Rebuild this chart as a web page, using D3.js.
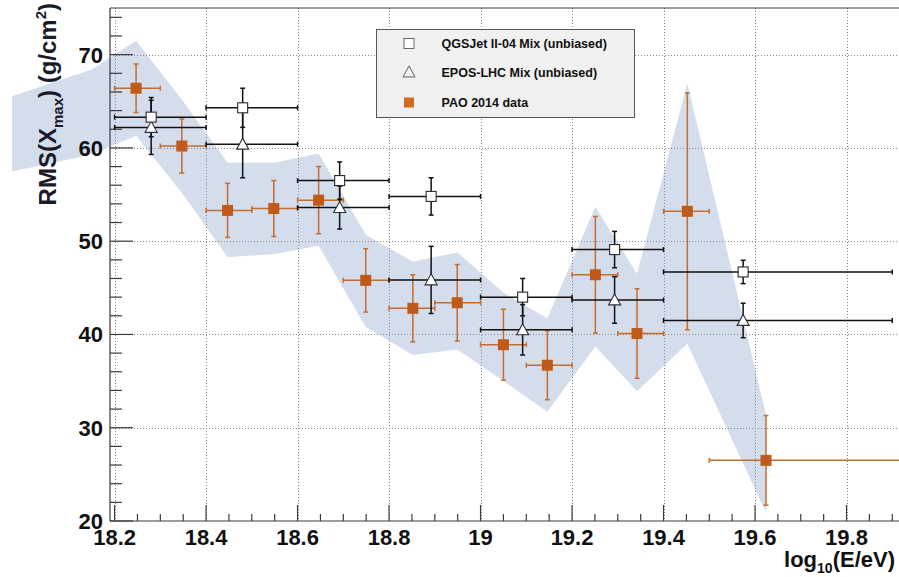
<!DOCTYPE html>
<html>
<head>
<meta charset="utf-8">
<script src="https://cdn.jsdelivr.net/npm/d3@7"></script>
<style>
  html, body { margin: 0; padding: 0; background: #fff; }
  svg { display: block; font-family: "Liberation Sans", Arial, Helvetica, sans-serif; }
</style>
</head>
<body>
<svg id="chart" width="899" height="577"></svg>
<script>
// ---- PAO 2014 measurement (RMS of Xmax with statistical errors) ----
const paoE     = [18.247, 18.347, 18.447, 18.548, 18.646, 18.749, 18.852, 18.949, 19.050, 19.146, 19.251, 19.342, 19.452, 19.624];
const paoRMS   = [66.4, 60.2, 53.3, 53.5, 54.4, 45.8, 42.8, 43.4, 38.9, 36.7, 46.4, 40.1, 53.2, 26.5];
const paoStat  = [2.6, 2.9, 2.9, 3.0, 3.6, 3.4, 3.6, 4.1, 3.8, 3.7, 6.25, 4.8, 12.7, 4.8];
const paoBinLo = [18.2, 18.3, 18.4, 18.5, 18.6, 18.7, 18.8, 18.9, 19.0, 19.1, 19.2, 19.3, 19.4, 19.5];
const paoBinHi = [18.3, 18.4, 18.5, 18.6, 18.7, 18.8, 18.9, 19.0, 19.1, 19.2, 19.3, 19.4, 19.5, 20.0];

// ---- systematic band of the measurement (upper / lower edge) ----
const bandE  = [17.95, 18.15, 18.247, 18.347, 18.447, 18.548, 18.646, 18.749, 18.852, 18.949, 19.050, 19.146, 19.251, 19.342, 19.452, 19.624];
const bandHi = [65.1, 68.4, 71.5, 65.2, 58.4, 58.4, 59.4, 50.7, 47.8, 48.8, 44.5, 41.7, 53.7, 46.5, 66.9, 31.4];
const bandLo = [57.2, 59.3, 61.3, 55.2, 48.3, 48.6, 49.5, 40.8, 37.8, 38.4, 35.0, 31.7, 38.7, 33.9, 39.0, 20.9];

// ---- unbiased mixed-composition predictions ----
const modelE     = [18.28, 18.48, 18.692, 18.892, 19.092, 19.293, 19.574];
const modelBinLo = [18.2, 18.4, 18.6, 18.8, 19.0, 19.2, 19.4];
const modelBinHi = [18.4, 18.6, 18.8, 19.0, 19.2, 19.4, 19.9];
const qgsRMS  = [63.3, 64.3, 56.5, 54.8, 44.0, 49.1, 46.7];
const qgsErr  = [2.1, 2.1, 2.0, 2.0, 2.0, 1.95, 1.25];
const eposRMS = [62.2, 60.4, 53.6, 45.85, 40.5, 43.7, 41.5];
const eposErr = [2.9, 3.6, 2.3, 3.6, 2.7, 2.5, 1.85];

// ---- axes ----
const xTicks = [18.2, 18.4, 18.6, 18.8, 19.0, 19.2, 19.4, 19.6, 19.8];
const xTickLabels = ["18.2", "18.4", "18.6", "18.8", "19", "19.2", "19.4", "19.6", "19.8"];
const yTicks = [20, 30, 40, 50, 60, 70];
const yTickLabels = ["20", "30", "40", "50", "60", "70"];

const legendItems = [
  { label: "QGSJet II-04 Mix (unbiased)", kind: "square" },
  { label: "EPOS-LHC Mix (unbiased)", kind: "triangle" },
  { label: "PAO 2014 data", kind: "pao" }
];

const W = 899, H = 577;
const frame = { left: 110, top: 8, bottom: 521, right: 906 };
const x = d3.scaleLinear().domain([18.19, 19.93]).range([frame.left, frame.right]);
const y = d3.scaleLinear().domain([20, 75]).range([frame.bottom, frame.top]);

const svg = d3.select("#chart");
svg.append("rect").attr("width", W).attr("height", H).attr("fill", "#fff");

const defs = svg.append("defs");
defs.append("clipPath").attr("id", "padClip")
  .append("rect").attr("x", 12).attr("y", 0).attr("width", W - 12).attr("height", H);

// systematic band
const band = bandE.map((e, i) => ({ e, hi: bandHi[i], lo: bandLo[i] }));
svg.append("path")
  .datum(band)
  .attr("clip-path", "url(#padClip)")
  .attr("fill", "#d4ddec")
  .attr("d", d3.area().x(d => x(d.e)).y0(d => y(d.lo)).y1(d => y(d.hi)));

// grid
const grid = svg.append("g").attr("stroke", "#8a8a8a").attr("stroke-width", 1).attr("stroke-dasharray", "1,2");
xTicks.forEach(t => grid.append("line")
  .attr("x1", Math.round(x(t)) + 0.5).attr("x2", Math.round(x(t)) + 0.5)
  .attr("y1", frame.top).attr("y2", frame.bottom));
yTicks.filter(t => t > 20).forEach(t => grid.append("line")
  .attr("x1", frame.left).attr("x2", W)
  .attr("y1", Math.round(y(t)) + 0.5).attr("y2", Math.round(y(t)) + 0.5));

// frame
const fr = svg.append("g").attr("stroke", "#3a3a3a").attr("stroke-width", 1.2).attr("fill", "none");
fr.append("line").attr("x1", frame.left).attr("x2", W).attr("y1", frame.top).attr("y2", frame.top);
fr.append("line").attr("x1", frame.left).attr("x2", frame.left).attr("y1", frame.top).attr("y2", frame.bottom);
fr.append("line").attr("x1", frame.left).attr("x2", W).attr("y1", frame.bottom).attr("y2", frame.bottom);

// ticks
const tk = svg.append("g").attr("stroke", "#3a3a3a").attr("stroke-width", 1.2);
d3.range(20, 75.01, 2).forEach(v => {
  const major = Math.abs(v % 10) < 1e-6;
  tk.append("line").attr("x1", frame.left).attr("x2", frame.left + (major ? 23 : 12))
    .attr("y1", y(v)).attr("y2", y(v));
});
d3.range(18.2, 19.93, 0.05).forEach(v => {
  const major = Math.abs(Math.round(v * 10) - v * 10) < 1e-6 && Math.round(v * 10) % 2 === 0;
  tk.append("line").attr("x1", x(v)).attr("x2", x(v))
    .attr("y1", frame.bottom).attr("y2", frame.bottom - (major ? 16 : 7));
});

// tick labels
const lab = svg.append("g").attr("font-weight", "bold").attr("font-size", 22).attr("fill", "#111");
xTicks.forEach((t, i) => lab.append("text").attr("x", x(t)).attr("y", 545)
  .attr("text-anchor", "middle").text(xTickLabels[i]));
yTicks.forEach((t, i) => lab.append("text").attr("x", 103).attr("y", y(t)).attr("dy", "0.36em")
  .attr("text-anchor", "end").text(yTickLabels[i]));

// axis titles
const xt = svg.append("text").attr("x", 895).attr("y", 567).attr("text-anchor", "end")
  .attr("font-weight", "bold").attr("font-size", 22).attr("fill", "#111");
xt.append("tspan").text("log");
xt.append("tspan").attr("font-size", 14).attr("dy", 6).text("10");
xt.append("tspan").attr("dy", -6).text("(E/eV)");

const yt = svg.append("text").attr("transform", "translate(56,3) rotate(-90)").attr("text-anchor", "end")
  .attr("font-weight", "bold").attr("font-size", 24).attr("fill", "#1a1a2a");
yt.append("tspan").text("RMS(X");
yt.append("tspan").attr("font-size", 15).attr("dy", 7).text("max");
yt.append("tspan").attr("dy", -7).text(") (g/cm");
yt.append("tspan").attr("font-size", 15).attr("dy", -10).text("2");
yt.append("tspan").attr("dy", 10).text(")");

// error bars helper
function errorBars(g, pts, color, width) {
  const cap = 2.5;
  pts.forEach(p => {
    const cx = x(p.e), cy = y(p.v);
    const x0 = x(p.lo), x1 = x(p.hi), yTop = y(p.v + p.err), yBot = y(p.v - p.err);
    g.append("line").attr("x1", x0).attr("x2", x1).attr("y1", cy).attr("y2", cy);
    g.append("line").attr("x1", x0).attr("x2", x0).attr("y1", cy - cap).attr("y2", cy + cap);
    g.append("line").attr("x1", x1).attr("x2", x1).attr("y1", cy - cap).attr("y2", cy + cap);
    g.append("line").attr("x1", cx).attr("x2", cx).attr("y1", yTop).attr("y2", yBot);
    g.append("line").attr("x1", cx - cap).attr("x2", cx + cap).attr("y1", yTop).attr("y2", yTop);
    g.append("line").attr("x1", cx - cap).attr("x2", cx + cap).attr("y1", yBot).attr("y2", yBot);
  });
  g.attr("stroke", color).attr("stroke-width", width);
}

const trianglePath = s => `M0,${-s * 0.55}L${s * 0.55},${s * 0.45}L${-s * 0.55},${s * 0.45}Z`;

// PAO data
const pao = paoE.map((e, i) => ({ e, v: paoRMS[i], err: paoStat[i], lo: paoBinLo[i], hi: paoBinHi[i] }));
errorBars(svg.append("g"), pao, "#c46d2e", 1.5);
svg.append("g").selectAll("rect").data(pao).join("rect")
  .attr("x", d => x(d.e) - 5.5).attr("y", d => y(d.v) - 5.5)
  .attr("width", 11).attr("height", 11).attr("fill", "#c05a1a");

// model predictions: EPOS-LHC (triangles) and QGSJet II-04 (squares)
const qgs = modelE.map((e, i) => ({ e, v: qgsRMS[i], err: qgsErr[i], lo: modelBinLo[i], hi: modelBinHi[i] }));
const epos = modelE.map((e, i) => ({ e, v: eposRMS[i], err: eposErr[i], lo: modelBinLo[i], hi: modelBinHi[i] }));
errorBars(svg.append("g"), epos, "#111", 1.5);
errorBars(svg.append("g"), qgs, "#111", 1.5);
svg.append("g").selectAll("path").data(epos).join("path")
  .attr("transform", d => `translate(${x(d.e)},${y(d.v)})`)
  .attr("d", trianglePath(11)).attr("fill", "#fff").attr("stroke", "#2a2f3a").attr("stroke-width", 1.1);
svg.append("g").selectAll("rect").data(qgs).join("rect")
  .attr("x", d => x(d.e) - 5).attr("y", d => y(d.v) - 5)
  .attr("width", 10).attr("height", 10).attr("fill", "#fff").attr("stroke", "#2a2a2a").attr("stroke-width", 1.1);

// legend
const lg = svg.append("g");
lg.append("rect").attr("x", 376.5).attr("y", 29.5).attr("width", 258).attr("height", 88)
  .attr("fill", "#f0f0f0").attr("stroke", "#555").attr("stroke-width", 1);
const rowsY = [43.5, 72, 102.5];
legendItems.forEach((it, i) => {
  const cy = rowsY[i];
  if (it.kind === "square") {
    lg.append("rect").attr("x", 404).attr("y", cy - 5).attr("width", 10).attr("height", 10)
      .attr("fill", "#fff").attr("stroke", "#666").attr("stroke-width", 1);
  } else if (it.kind === "triangle") {
    lg.append("path").attr("transform", `translate(409,${cy})`).attr("d", trianglePath(11))
      .attr("fill", "none").attr("stroke", "#555").attr("stroke-width", 0.9);
  } else {
    lg.append("rect").attr("x", 404).attr("y", cy - 5).attr("width", 10).attr("height", 10).attr("fill", "#d2691e");
  }
  lg.append("text").attr("x", 441.5).attr("y", cy).attr("dy", "0.36em")
    .attr("font-weight", "bold").attr("font-size", 12.5).attr("fill", "#111").text(it.label);
});
</script>
</body>
</html>
